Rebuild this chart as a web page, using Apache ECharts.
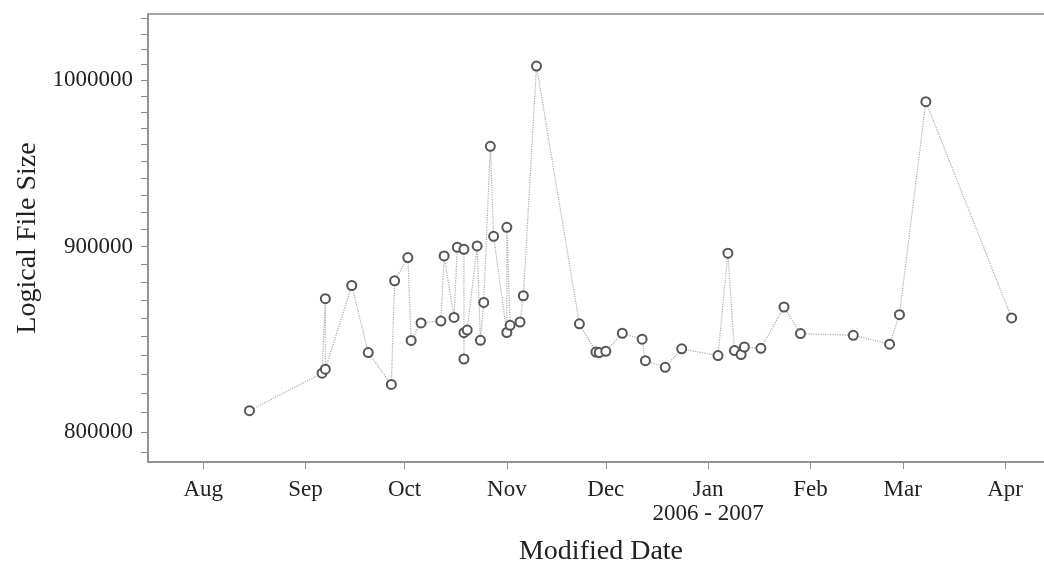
<!DOCTYPE html>
<html>
<head>
<meta charset="utf-8">
<script src="https://cdn.jsdelivr.net/npm/echarts@6/dist/echarts.min.js"></script>
<style>
  html, body { margin: 0; padding: 0; background: #fff; }
  #chart { width: 1044px; height: 568px; }
</style>
</head>
<body>
<div id="chart"></div>
<script>
// modified dates of each file version
var dates = [
  '2006-08-15', '2006-09-06', '2006-09-07', '2006-09-07', '2006-09-15',
  '2006-09-20', '2006-09-27', '2006-09-28', '2006-10-02', '2006-10-03',
  '2006-10-06', '2006-10-12', '2006-10-13', '2006-10-16', '2006-10-17',
  '2006-10-19', '2006-10-19', '2006-10-19', '2006-10-20', '2006-10-23',
  '2006-10-24', '2006-10-25', '2006-10-27', '2006-10-28', '2006-11-01',
  '2006-11-01', '2006-11-02', '2006-11-05', '2006-11-06', '2006-11-10',
  '2006-11-23', '2006-11-28', '2006-11-29', '2006-12-01', '2006-12-06',
  '2006-12-12', '2006-12-13', '2006-12-19', '2006-12-24', '2007-01-04',
  '2007-01-07', '2007-01-09', '2007-01-11', '2007-01-12', '2007-01-17',
  '2007-01-24', '2007-01-29', '2007-02-14', '2007-02-25', '2007-02-28',
  '2007-03-08', '2007-04-03'
];
// logical file size
var sizes = [
  811000, 830500, 870700, 832600, 878000,
  841400, 824600, 880600, 893700, 847900,
  857400, 858400, 894600, 860400, 899500,
  898400, 838000, 852100, 853500, 900300,
  848000, 868600, 959000, 905800, 852200,
  911000, 856100, 857900, 872300, 1009100,
  856900, 841700, 841400, 842100, 851800,
  848600, 837100, 833600, 843400, 839800,
  896200, 842500, 840400, 844400, 843700,
  866100, 851600, 850700, 845900, 861900,
  986600, 860100
];

var monthTicks = ['2006-08-01', '2006-09-01', '2006-10-01', '2006-11-01', '2006-12-01',
  '2007-01-01', '2007-02-01', '2007-03-01', '2007-04-01'];
var monthLabels = ['Aug', 'Sep', 'Oct', 'Nov', 'Dec', 'Jan\n2006 - 2007', 'Feb', 'Mar', 'Apr'];

var sizeLabels = [800000, 900000, 1000000];
var sizeTicks = [];
for (var s = 790000; s <= 1040000; s += 10000) sizeTicks.push(s);

function toTime(str) {
  var p = str.split('-');
  return new Date(+p[0], +p[1] - 1, +p[2]).getTime();
}

var monthTimes = monthTicks.map(toTime);
var data = dates.map(function (d, i) { return [toTime(d), sizes[i]]; });

var font = 'Liberation Serif';
var chart = echarts.init(document.getElementById('chart'), null, { renderer: 'canvas' });

var option = {
  backgroundColor: '#fff',
  animation: false,
  grid: {
    left: 148, top: 14, right: -10, bottom: 106,
    outerBoundsMode: 'none',
    containLabel: false,
    show: true, borderColor: '#8c8c8c', borderWidth: 1.5
  },
  xAxis: {
    type: 'value',
    min: new Date(2006, 6, 15, 6).getTime(),
    max: new Date(2007, 3, 15, 20).getTime(),
    name: 'Modified Date',
    nameLocation: 'middle',
    nameGap: 76,
    nameTextStyle: { fontFamily: font, fontSize: 28, color: '#222' },
    axisLine: { show: true, lineStyle: { color: '#8c8c8c', width: 1.5 } },
    axisTick: { show: true, customValues: monthTimes, length: 7, lineStyle: { color: '#8c8c8c' } },
    axisLabel: {
      customValues: monthTimes,
      margin: 16,
      fontFamily: font, fontSize: 23, color: '#222', lineHeight: 24,
      formatter: function (v) {
        var i = monthTimes.indexOf(v);
        return i >= 0 ? monthLabels[i] : '';
      }
    },
    splitLine: { show: false }
  },
  yAxis: {
    type: 'log',
    min: 785000,
    max: 1043000,
    name: 'Logical File Size',
    nameLocation: 'middle',
    nameGap: 106,
    nameTextStyle: { fontFamily: font, fontSize: 28, color: '#222' },
    axisLine: { show: true, lineStyle: { color: '#8c8c8c', width: 1.5 } },
    axisTick: { show: true, customValues: sizeTicks, length: 7, lineStyle: { color: '#8c8c8c' } },
    axisLabel: {
      customValues: sizeLabels,
      margin: 15,
      fontFamily: font, fontSize: 23, color: '#222',
      formatter: function (v) { return String(Math.round(v)); }
    },
    splitLine: { show: false }
  },
  series: [{
    type: 'line',
    data: data,
    symbol: 'emptyCircle',
    symbolSize: 9,
    itemStyle: { color: '#555', borderWidth: 1.5 },
    lineStyle: { type: 'dotted', color: '#aaa', width: 1.2 }
  }]
};

chart.setOption(option);
</script>
</body>
</html>
